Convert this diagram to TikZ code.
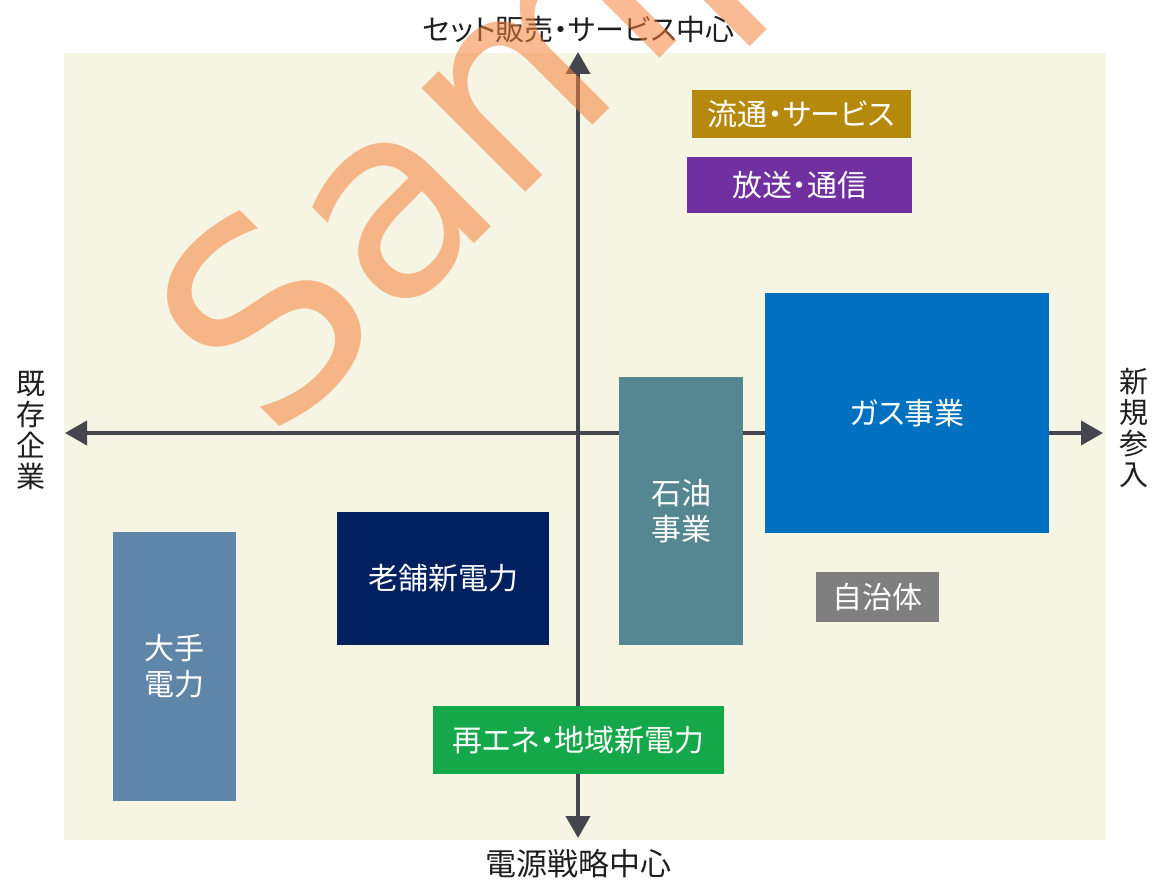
\documentclass[tikz,border=0pt]{standalone}
\usepackage{fontspec}
\newfontfamily\jp[RawFeature=+palt]{Noto Sans CJK JP}
\newfontfamily\wmfont{DejaVu Sans}
\usetikzlibrary{arrows.meta}
\definecolor{bgbeige}{HTML}{F6F5E4}
\definecolor{axisgray}{HTML}{45454F}
\definecolor{cgold}{HTML}{B5890B}
\definecolor{cpurple}{HTML}{7030A0}
\definecolor{cblue}{HTML}{0070C0}
\definecolor{cteal}{HTML}{548792}
\definecolor{cgray}{HTML}{7F7F7F}
\definecolor{cnavy}{HTML}{002060}
\definecolor{csteel}{HTML}{5F85A8}
\definecolor{cgreen}{HTML}{14A84B}
\definecolor{wmorange}{HTML}{F5823C}
\begin{document}
\begin{tikzpicture}[x=1pt,y=-1pt,
  box/.style={rectangle, inner sep=0pt, text=white, align=center,
    font=\jp\fontsize{30}{36}\selectfont},
  axislabel/.style={inner sep=0pt, text=black!88, align=center,
    font=\jp\fontsize{29}{31}\selectfont},
  axisline/.style={line width=4pt, draw=axisgray,
    {Triangle[length=22pt,width=24pt]}-{Triangle[length=22pt,width=24pt]}},
  wmark/.style={inner sep=0pt, text=wmorange, text opacity=0.55,
    font=\wmfont\fontsize{268}{268}\selectfont}
]
\useasboundingbox (0,0) rectangle (1159,880);
\fill[bgbeige] (64,53) rectangle (1106,840);

% axes
\coordinate (top) at (578,52);
\coordinate (bottom) at (578,838);
\coordinate (left) at (65,433);
\coordinate (right) at (1103,433);
\draw[axisline] (left) -- (right);
\draw[axisline] (bottom) -- (top);

% axis labels
\node[axislabel] (ltop) at (579,30) {セット販売・サービス中心};
\node[axislabel, font=\jp\fontsize{31}{31}\selectfont] (lbottom) at (578,864) {電源戦略中心};
\node[axislabel] (lleft) at (31,431) {既\\存\\企\\業};
\node[axislabel] (lright) at (1134,428) {新\\規\\参\\入};

% boxes
\node[box, fill=cgold, minimum width=219pt, minimum height=48pt] (ryutsu) at (801.5,114) {流通・サービス};
\node[box, fill=cpurple, minimum width=225pt, minimum height=56pt] (hoso) at (799.5,185) {放送・通信};
\node[box, fill=cblue, minimum width=284pt, minimum height=240pt] (gas) at (907,413) {ガス事業};
\node[box, fill=cteal, minimum width=124pt, minimum height=268pt] (sekiyu) at (681,511) {石油\\事業};
\node[box, fill=cgray, minimum width=123pt, minimum height=50pt] (jichi) at (877.5,597) {自治体};
\node[box, fill=cnavy, minimum width=212pt, minimum height=133pt] (shinise) at (443,578.5) {老舗新電力};
\node[box, fill=csteel, minimum width=123pt, minimum height=269pt] (ote) at (174.5,666.5) {大手\\電力};
\node[box, fill=cgreen, minimum width=291pt, minimum height=68pt] (saiene) at (578.5,740) {再エネ・地域新電力};

% watermark
\begin{scope}
\clip (0,0) rectangle (1159,880);
\node[wmark, rotate=45, anchor=base west] (sample) at (272,446) {Sample};
\end{scope}
\end{tikzpicture}
\end{document}
